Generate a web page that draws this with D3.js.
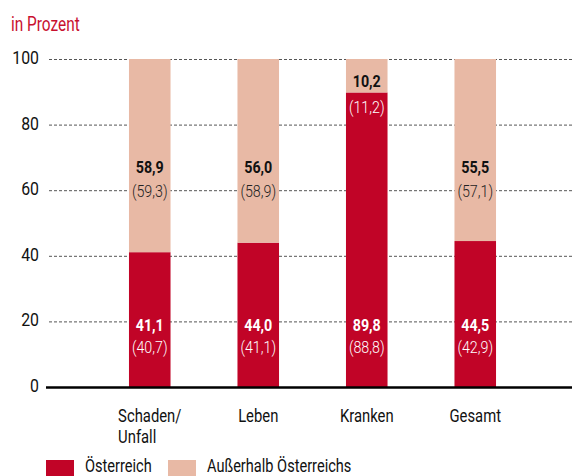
<!DOCTYPE html>
<html>
<head>
<meta charset="utf-8">
<script src="https://cdn.jsdelivr.net/npm/d3@7"></script>
<style>
  body { margin: 0; background: #fff; }
  svg text { font-family: "Roboto", sans-serif; }
</style>
</head>
<body>
<div id="chart"></div>
<script>
// Data
var categories = ["Schaden/\nUnfall", "Leben", "Kranken", "Gesamt"];
var oesterreich = [41.1, 44.0, 89.8, 44.5];
var ausserhalb = [58.9, 56.0, 10.2, 55.5];
var oesterreichPrev = ["(40,7)", "(41,1)", "(88,8)", "(42,9)"];
var ausserhalbPrev = ["(59,3)", "(58,9)", "(11,2)", "(57,1)"];
var yTicks = [0, 20, 40, 60, 80, 100];
var seriesNames = ["Österreich", "Außerhalb Österreichs"];

var width = 572, height = 476;
var red = "#c10427", pink = "#e8b9a5", title = "#c8102e";

var svg = d3.select("#chart").append("svg")
    .attr("width", width)
    .attr("height", height);

var x = d3.scaleBand()
    .domain(categories)
    .range([95.5, 529.5])
    .paddingInner(0.617)
    .paddingOuter(0.3085);

var y = d3.scaleLinear()
    .domain([0, 100])
    .range([387, 59]);

var fmt = function (v) { return v.toFixed(1).replace(".", ","); };

// title
svg.append("text")
    .attr("x", 11)
    .attr("y", 31)
    .attr("data-sq", 0.77)
    .attr("fill", title)
    .style("font-size", "20px")
    .text("in Prozent");

// gridlines
svg.selectAll(".grid")
    .data(yTicks.filter(function (d) { return d > 0; }))
    .enter().append("line")
    .attr("x1", 49)
    .attr("x2", width)
    .attr("y1", function (d) { return y(d) + 0.5; })
    .attr("y2", function (d) { return y(d) + 0.5; })
    .attr("stroke", "#555")
    .attr("stroke-width", 1)
    .attr("stroke-dasharray", "3,2");

// y tick labels
svg.selectAll(".ytick")
    .data(yTicks)
    .enter().append("text")
    .attr("x", 39)
    .attr("y", function (d) { return y(d) + 5; })
    .attr("text-anchor", "end")
    .attr("data-sq", 0.88)
    .style("font-size", "18px")
    .attr("fill", "#111")
    .text(function (d) { return d; });

// bars
var groups = svg.selectAll(".bar")
    .data(categories)
    .enter().append("g");

groups.append("rect")
    .attr("x", function (d) { return x(d); })
    .attr("width", x.bandwidth())
    .attr("y", function (d, i) { return y(oesterreich[i]); })
    .attr("height", function (d, i) { return y(0) - y(oesterreich[i]); })
    .attr("fill", red);

groups.append("rect")
    .attr("x", function (d) { return x(d); })
    .attr("width", x.bandwidth())
    .attr("y", y(100))
    .attr("height", function (d, i) { return y(oesterreich[i]) - y(100); })
    .attr("fill", pink);

// value labels
var cx = function (d) { return x(d) + x.bandwidth() / 2; };

groups.append("text")
    .attr("x", cx)
    .attr("y", function (d, i) { return oesterreich[i] > 80 ? y(oesterreich[i]) - 5 : y(67) + 6; })
    .attr("text-anchor", "middle")
    .attr("data-sq", 0.84)
    .style("font-size", "17px")
    .style("font-weight", "bold")
    .attr("fill", "#111")
    .text(function (d, i) { return fmt(ausserhalb[i]); });

groups.append("text")
    .attr("x", cx)
    .attr("y", function (d, i) { return oesterreich[i] > 80 ? y(oesterreich[i]) + 21 : y(60) + 7; })
    .attr("text-anchor", "middle")
    .attr("data-sq", 0.84)
    .style("font-size", "17px")
    .style("font-weight", "300")
    .attr("fill", function (d, i) { return oesterreich[i] > 80 ? "#fff" : "#222"; })
    .text(function (d, i) { return ausserhalbPrev[i]; });

groups.append("text")
    .attr("x", cx)
    .attr("y", y(19) + 6)
    .attr("text-anchor", "middle")
    .attr("data-sq", 0.84)
    .style("font-size", "17px")
    .style("font-weight", "bold")
    .attr("fill", "#fff")
    .text(function (d, i) { return fmt(oesterreich[i]); });

groups.append("text")
    .attr("x", cx)
    .attr("y", y(12.5) + 7)
    .attr("text-anchor", "middle")
    .attr("data-sq", 0.84)
    .style("font-size", "17px")
    .style("font-weight", "300")
    .attr("fill", "#fff")
    .text(function (d, i) { return oesterreichPrev[i]; });

// baseline
svg.append("line")
    .attr("x1", 46)
    .attr("x2", width)
    .attr("y1", y(0) + 0.5)
    .attr("y2", y(0) + 0.5)
    .attr("stroke", "#000")
    .attr("stroke-width", 2.5);

// category labels
groups.each(function (d) {
    var lines = d.split("\n");
    var t = d3.select(this).append("text")
        .attr("class", "cat")
        .attr("y", 422)
        .attr("data-sq", 0.78)
        .style("font-size", "19px")
        .attr("fill", "#111");
    lines.forEach(function (l, k) {
        t.append("tspan").attr("dy", k ? 21 : 0).text(l);
    });
});

// legend
var legend = svg.selectAll(".legend")
    .data(seriesNames)
    .enter().append("g")
    .attr("transform", function (d, i) { return "translate(" + (i ? 168 : 46) + ",0)"; });

legend.append("rect")
    .attr("y", 460)
    .attr("width", 28)
    .attr("height", 16)
    .attr("fill", function (d, i) { return i ? pink : red; });

legend.append("text")
    .attr("x", 39)
    .attr("y", 472)
    .attr("data-sq", 0.81)
    .style("font-size", "18px")
    .attr("fill", "#111")
    .text(function (d) { return d; });

// squeeze text horizontally to mimic a condensed face
svg.selectAll("text").each(function () {
    var t = d3.select(this);
    var sq = +t.attr("data-sq") || 1;
    var spans = t.selectAll("tspan");
    if (spans.empty()) {
        t.attr("textLength", this.getComputedTextLength() * sq)
         .attr("lengthAdjust", "spacingAndGlyphs");
    } else {
        spans.each(function () {
            d3.select(this).attr("textLength", this.getComputedTextLength() * sq)
                .attr("lengthAdjust", "spacingAndGlyphs");
        });
    }
});

// category labels: block centred under bar, lines left-aligned
svg.selectAll("text.cat").each(function (d) {
    var w = 0;
    d3.select(this).selectAll("tspan").each(function () { w = Math.max(w, +this.getAttribute("textLength")); });
    d3.select(this).selectAll("tspan").attr("x", cx(d) - w / 2);
});
</script>
</body>
</html>
